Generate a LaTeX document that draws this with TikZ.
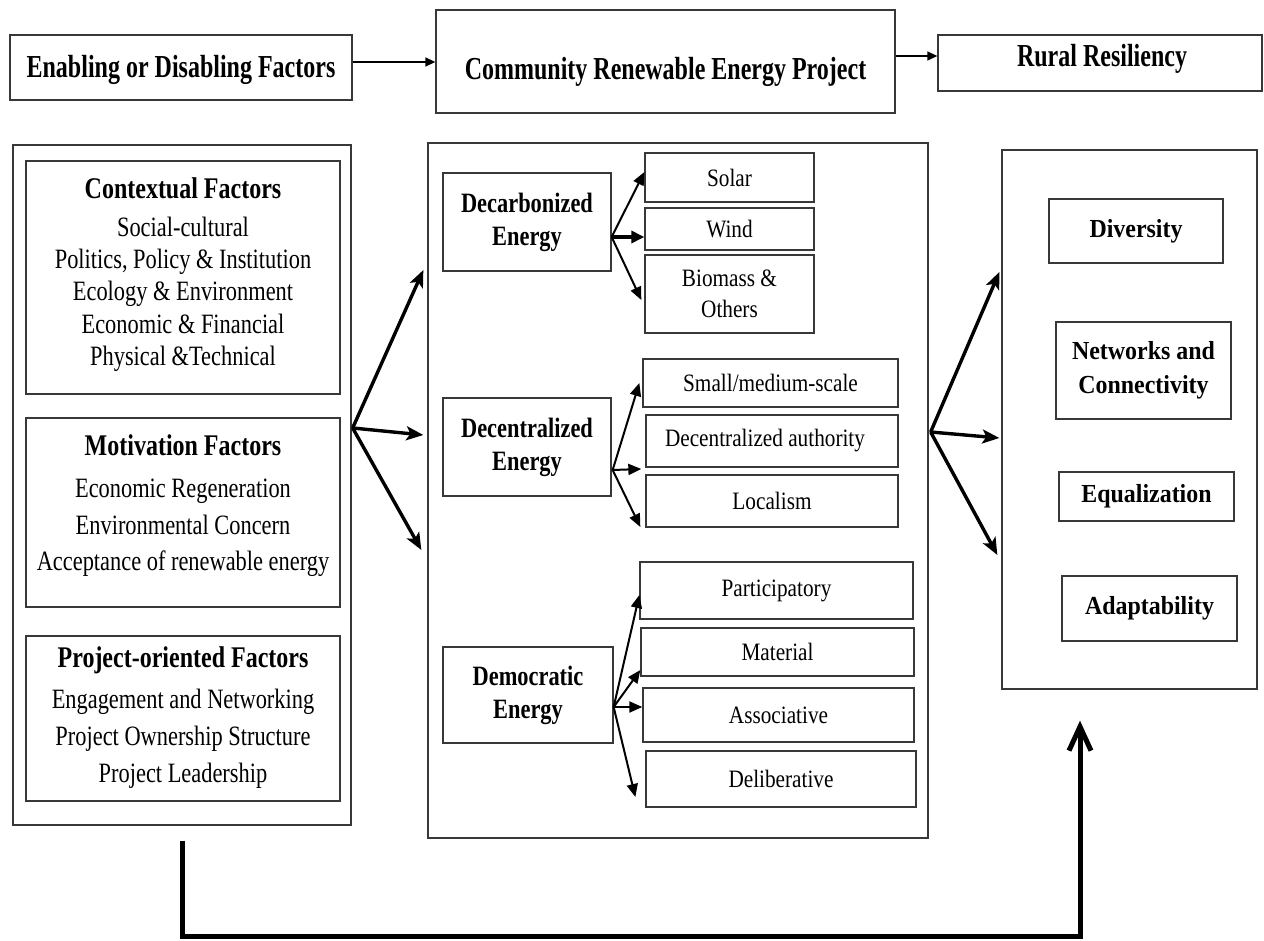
\documentclass[tikz,border=0pt]{standalone}
\usepackage{fontspec}
\setmainfont{Liberation Serif}
\newfontfamily\fsTop{Liberation Serif}[FakeStretch=0.75]
\newfontfamily\fsMain{Liberation Serif}[FakeStretch=0.8]
\newfontfamily\fsSmall{Liberation Serif}[FakeStretch=0.85]
\newfontfamily\fsRight{Liberation Serif}[FakeStretch=0.92]
\usetikzlibrary{arrows.meta,calc}

\begin{document}
\begin{tikzpicture}[x=1pt,y=-1pt,
  box/.style={draw=black!78, line width=1.3pt, inner sep=0pt, align=center},
  topf/.style={font=\fsTop\bfseries\fontsize{32}{36}\selectfont},
  lst/.style={align=center, inner sep=0pt},
  ene/.style={font=\fsMain\bfseries\fontsize{28}{33}\selectfont},
  sml/.style={font=\fsSmall\fontsize{25}{31}\selectfont},
  rgt/.style={font=\fsRight\bfseries\fontsize{26}{34}\selectfont},
  tarrow/.style={line width=1.4pt, -{Triangle[length=10pt,width=9pt]}},
  fan/.style={line width=3.4pt, -{Stealth[length=17pt,width=14pt,inset=4pt]}},
  sub/.style={line width=2pt, -{Triangle[length=13pt,width=11pt]}},
  subm/.style={line width=3.4pt, -{Triangle[length=13pt,width=12pt]}},
  fb/.style={line width=5pt, -{Straight Barb[length=24pt,width=22pt]}}
]
\useasboundingbox (0,0) rectangle (1264,941);

% ---------- top row ----------
\node[box, minimum width=342pt, minimum height=65pt] (E) at (181,67.5) {};
\node[topf, anchor=base] (Et) at (181,78) {Enabling or Disabling Factors};
\node[box, minimum width=459pt, minimum height=103pt] (C) at (665.5,61.5) {};
\node[topf, anchor=base] (Ct) at (665.5,80) {Community Renewable Energy Project};
\node[box, minimum width=324pt, minimum height=56pt] (R) at (1100,63) {};
\node[topf, anchor=base] (Rt) at (1102,67) {Rural Resiliency};

\draw[tarrow] ([yshift=5.5pt]E.east) -- ([yshift=5.5pt]E.east -| C.west);
\draw[tarrow] ([yshift=5.5pt]C.east) -- ([yshift=5.5pt]C.east -| R.west);

% ---------- enabling / disabling factors ----------
\node[box, minimum width=338pt, minimum height=680pt] (L) at (182,485) {};
\node[box, minimum width=314pt, minimum height=233pt] (ctx) at (183,277.5) {};
\node[box, minimum width=314pt, minimum height=189pt] (mot) at (183,512.5) {};
\node[box, minimum width=314pt, minimum height=165pt] (prj) at (183,718.5) {};

\node[lst, anchor=north, font=\fsMain\fontsize{28}{32.3}\selectfont] (ctxT) at (183,177.5)
  {{\bfseries\fontsize{30}{34}\selectfont Contextual Factors}\\[5.5pt]
   Social-cultural\\ Politics, Policy \& Institution\\ Ecology \& Environment\\
   Economic \& Financial\\ Physical \&Technical};
\node[lst, anchor=north, font=\fsMain\fontsize{28}{36.5}\selectfont] (motT) at (183,434.5)
  {{\bfseries\fontsize{30}{34}\selectfont Motivation Factors}\\[5.5pt]
   Economic Regeneration\\ Environmental Concern\\ Acceptance of renewable energy};
\node[lst, anchor=north, font=\fsMain\fontsize{28}{37}\selectfont] (prjT) at (183,646.5)
  {{\bfseries\fontsize{30}{34}\selectfont Project-oriented Factors}\\[4pt]
   Engagement and Networking\\ Project Ownership Structure\\ Project Leadership};

% ---------- community renewable energy project ----------
\node[box, minimum width=500pt, minimum height=695pt] (M) at (678,490.5) {};

\node[box, ene, minimum width=168pt, minimum height=98pt] (dcb) at (527,222) {Decarbonized\\Energy};
\node[box, ene, minimum width=168pt, minimum height=98pt] (dcn) at (527,447) {Decentralized\\Energy};
\node[box, ene, minimum width=170pt, minimum height=96pt] (dem) at (528,695) {Democratic\\Energy};

\node[box, sml, minimum width=169pt, minimum height=49pt] (solar) at (729.5,177.5) {Solar};
\node[box, sml, minimum width=169pt, minimum height=42pt] (wind) at (729.5,229) {Wind};
\node[box, sml, minimum width=169pt, minimum height=78pt] (bio) at (729.5,294) {Biomass \&\\Others};

\node[box, sml, minimum width=255pt, minimum height=48pt] (sms) at (770.5,383) {Small/medium-scale};
\node[box, sml, minimum width=252pt, minimum height=52pt] (dau) at (772,441) {\hspace*{-14pt}Decentralized authority};
\node[box, sml, minimum width=252pt, minimum height=52pt] (loc) at (772,501) {Localism};

\node[box, sml, minimum width=273pt, minimum height=57pt] (par) at (776.5,590.5) {Participatory};
\node[box, sml, minimum width=273pt, minimum height=48pt] (mat) at (777.5,652) {Material};
\node[box, sml, minimum width=271pt, minimum height=54pt] (ass) at (778.5,715) {Associative};
\node[box, sml, minimum width=270pt, minimum height=56pt] (del) at (781,779) {Deliberative};

% branches of each energy dimension
\draw[sub]  ([yshift=-15pt]dcb.east) -- ([yshift=5.5pt]solar.west);
\draw[subm] ([yshift=-15pt]dcb.east) -- ([yshift=-8pt]wind.west);
\draw[sub]  ([yshift=-15pt]dcb.east) -- ([xshift=-3pt,yshift=-6pt]bio.west);

\draw[sub]  ([xshift=1pt,yshift=-23pt]dcn.east) -- ([xshift=-3pt]sms.west);
\draw[sub]  ([xshift=1pt,yshift=-23pt]dcn.east) -- ([xshift=-4pt,yshift=-28pt]dau.west);
\draw[sub]  ([xshift=1pt,yshift=-23pt]dcn.east) -- ([xshift=-5pt,yshift=-26pt]loc.west);

\draw[sub]  ([yshift=-12pt]dem.east) -- ([yshift=-4.5pt]par.west);
\draw[sub]  ([yshift=-12pt]dem.east) -- ([yshift=-18pt]mat.west);
\draw[sub]  ([yshift=-12pt]dem.east) -- ([yshift=8pt]ass.west);
\draw[sub]  ([yshift=-12pt]dem.east) -- ([xshift=-10pt,yshift=-18pt]del.west);

% ---------- rural resiliency ----------
\node[box, minimum width=255pt, minimum height=539pt] (RB) at (1129.5,419.5) {};
\node[box, rgt, minimum width=174pt, minimum height=64pt] (div) at (1136,231) {Diversity};
\node[box, rgt, minimum width=175pt, minimum height=97pt] (net) at (1143.5,370.5) {Networks and\\Connectivity};
\node[box, rgt, minimum width=175pt, minimum height=49pt] (equ) at (1146.5,496.5) {Equalization};
\node[box, rgt, minimum width=175pt, minimum height=65pt] (ada) at (1149.5,608.5) {Adaptability};

% ---------- fans between the three panels ----------
\draw[fan] ([xshift=1pt,yshift=57pt]L.east) -- ([xshift=-4pt,yshift=220.5pt]M.west);
\draw[fan] ([xshift=1pt,yshift=57pt]L.east) -- ([xshift=-4pt,yshift=55.5pt]M.west);
\draw[fan] ([xshift=1pt,yshift=57pt]L.east) -- ([xshift=-6pt,yshift=-59.5pt]M.west);

\draw[fan] ([xshift=2pt,yshift=58.5pt]M.east) -- ([xshift=-2pt,yshift=147.5pt]RB.west);
\draw[fan] ([xshift=2pt,yshift=58.5pt]M.east) -- ([xshift=-2pt,yshift=-18.5pt]RB.west);
\draw[fan] ([xshift=2pt,yshift=58.5pt]M.east) -- ([xshift=-4pt,yshift=-135.5pt]RB.west);

% ---------- feedback loop ----------
\draw[fb] ([yshift=-15pt]L.south) -- ([yshift=-111pt]L.south)
  -| ([xshift=-49.5pt,yshift=-31pt]RB.south);
\end{tikzpicture}
\end{document}
